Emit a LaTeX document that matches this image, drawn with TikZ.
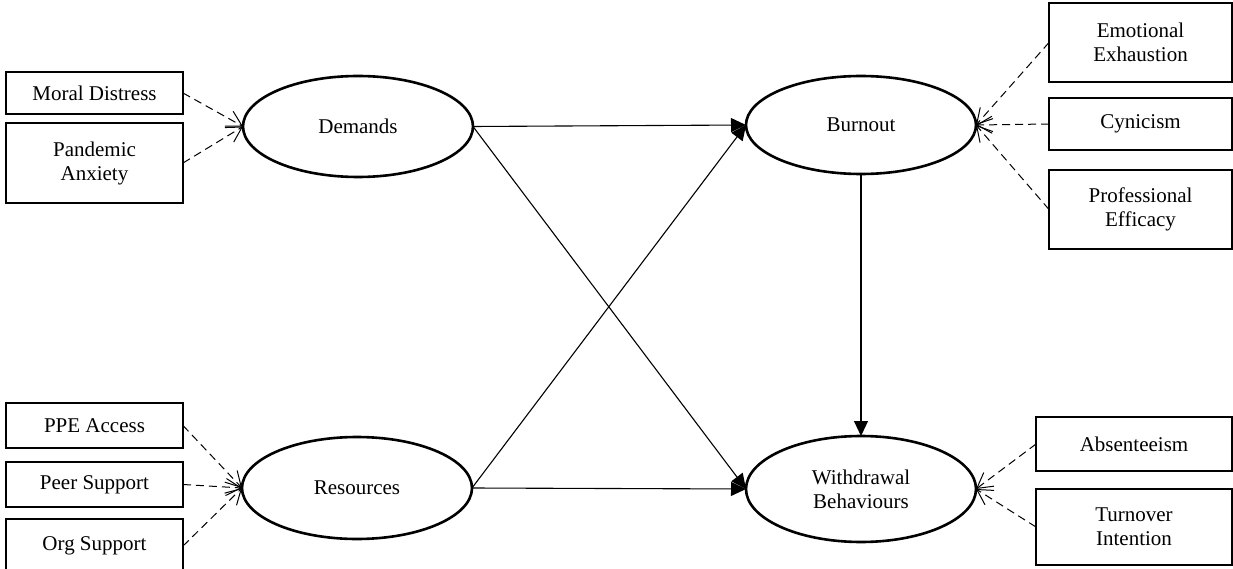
\documentclass[tikz,border=0pt]{standalone}
\usepackage{fontspec}
\setmainfont{Liberation Serif}
\usetikzlibrary{arrows.meta}
\usetikzlibrary{shapes.geometric}
\tikzset{latent/.style = {ellipse, draw, line width=2.6pt, inner sep=0pt,
                          outer sep=0pt, align=center, minimum width=230pt},
         indicator/.style = {rectangle, draw, line width=2.2pt, inner sep=0pt,
                             outer sep=0pt, align=center},
         loading/.style = {line width=1pt, dash pattern=on 8pt off 5pt,
                           -{Straight Barb[length=15pt, width=17pt, line width=1pt]}},
         regpath/.style = {line width=1.1pt, -{Triangle[length=15pt, width=14pt]}}}

\begin{document}
\begin{tikzpicture}[x=1pt, y=-1pt, font=\fontsize{21}{24}\selectfont]
    \useasboundingbox (0, 0) rectangle (1233, 569);

    % latent constructs
    \node [latent, minimum height=101pt] (demands) at (358, 126.5) {Demands};
    \node [latent, minimum height=102pt] (resources) at (357, 488) {Resources};
    \node [latent, minimum height=98pt] (burnout) at (861, 125) {Burnout};
    \node [latent, minimum height=106pt] (withdrawal) at (861, 489) {Withdrawal\\Behaviours};

    % indicators, left side
    \node [indicator, minimum width=177pt, minimum height=42pt] (moral) at (94.5, 93) {Moral Distress};
    \node [indicator, minimum width=177pt, minimum height=80pt] (anxiety) at (94.5, 163) {Pandemic\\Anxiety};
    \node [indicator, minimum width=177pt, minimum height=45pt] (ppe) at (94.5, 425.5) {PPE Access};
    \node [indicator, minimum width=177pt, minimum height=45pt] (peer) at (94.5, 484.5) {Peer Support};
    \node [indicator, minimum width=177pt, minimum height=54pt] (org) at (94.5, 546) {Org Support};

    % indicators, right side
    \node [indicator, minimum width=183pt, minimum height=79pt] (exhaustion) at (1140.5, 42.5) {Emotional\\Exhaustion};
    \node [indicator, minimum width=183pt, minimum height=52pt] (cynicism) at (1140.5, 124) {Cynicism};
    \node [indicator, minimum width=183pt, minimum height=79pt] (efficacy) at (1140.5, 209.5) {Professional\\Efficacy};
    \node [indicator, minimum width=196pt, minimum height=54pt] (absent) at (1134, 444) {Absenteeism};
    \node [indicator, minimum width=196pt, minimum height=76pt] (turnover) at (1134, 527) {Turnover\\Intention};

    % measurement paths
    \draw [loading] (moral.east) -- (demands.west);
    \draw [loading] (anxiety.east) -- (demands.west);
    \draw [loading] (ppe.east) -- (resources.west);
    \draw [loading] (peer.east) -- (resources.west);
    \draw [loading] (org.east) -- (resources.west);
    \draw [loading] (exhaustion.west) -- (burnout.east);
    \draw [loading] (cynicism.west) -- (burnout.east);
    \draw [loading] (efficacy.west) -- (burnout.east);
    \draw [loading] (absent.west) -- (withdrawal.east);
    \draw [loading] (turnover.west) -- (withdrawal.east);

    % structural paths
    \draw [regpath] (demands.east) -- (burnout.west);
    \draw [regpath] (demands.east) -- (withdrawal.west);
    \draw [regpath] (resources.east) -- (burnout.west);
    \draw [regpath] (resources.east) -- (withdrawal.west);
    \draw [regpath] (burnout.south) -- (withdrawal.north);
\end{tikzpicture}
\end{document}
